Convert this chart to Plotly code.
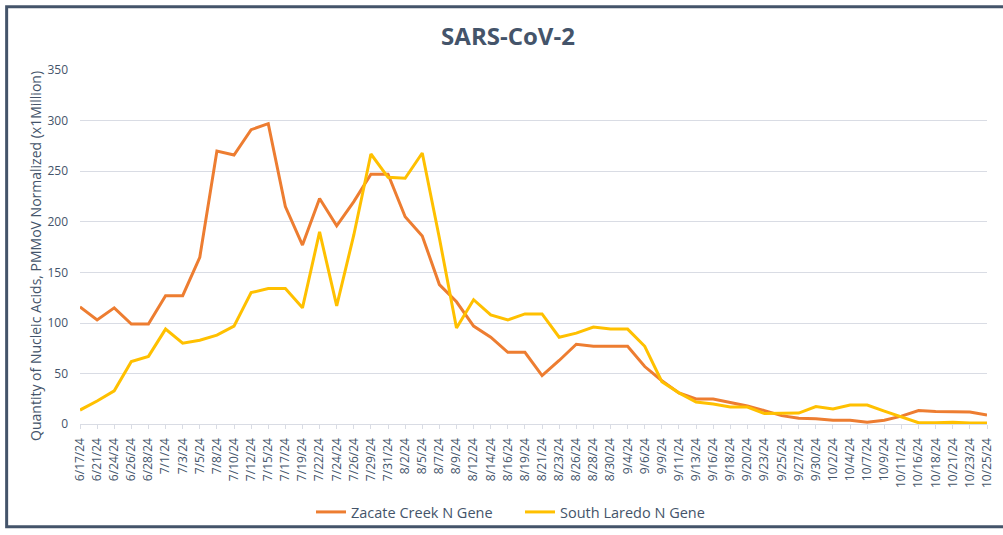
import plotly.graph_objects as go

dates = ["6/17/24", "6/21/24", "6/24/24", "6/26/24", "6/28/24", "7/1/24", "7/3/24", "7/5/24",
         "7/8/24", "7/10/24", "7/12/24", "7/15/24", "7/17/24", "7/19/24", "7/22/24", "7/24/24",
         "7/26/24", "7/29/24", "7/31/24", "8/2/24", "8/5/24", "8/7/24", "8/9/24", "8/12/24",
         "8/14/24", "8/16/24", "8/19/24", "8/21/24", "8/23/24", "8/26/24", "8/28/24", "8/30/24",
         "9/4/24", "9/6/24", "9/9/24", "9/11/24", "9/13/24", "9/16/24", "9/18/24", "9/20/24",
         "9/23/24", "9/25/24", "9/27/24", "9/30/24", "10/2/24", "10/4/24", "10/7/24", "10/9/24",
         "10/11/24", "10/16/24", "10/18/24", "10/21/24", "10/23/24", "10/25/24"]

zacate_creek = [116, 103, 115, 99, 99, 127, 127, 165, 270, 266, 291, 297, 215, 177, 223, 196,
                220, 247, 247, 205, 186, 138, 121, 97, 86, 71, 71, 48, 63, 79, 77, 77,
                77, 57, 43, 31, 25, 25, 21.5, 18, 13.5, 8.5, 6, 5.5, 4, 4, 2, 4,
                8, 13.5, 12.5, 12.5, 12, 9]

south_laredo = [14, 23, 33, 62, 67, 94, 80, 83, 88, 97, 130, 134, 134, 115, 190, 117,
                187, 267, 244, 243, 268, 184, 95, 123, 108, 103, 109, 109, 86, 90, 96, 94,
                94, 77, 42, 31, 22, 20, 17, 17, 10.5, 10.5, 11, 17.5, 15, 19, 19, 13,
                7, 1.5, 1.5, 2, 1.2, 1.2]

y_ticks = [0, 50, 100, 150, 200, 250, 300, 350]

TEXT = "#44546A"
GRID = "#D9DCE4"
FONT = "Open Sans"
W, H = 1003, 535
L, R, T, B = 80, 8, 70, 106
PW, PH = W - L - R, H - T - B

fig = go.Figure()
fig.add_trace(go.Scatter(x=dates, y=zacate_creek, mode="lines", name="Zacate Creek N Gene",
                         line=dict(color="#ED7D31", width=3)))
fig.add_trace(go.Scatter(x=dates, y=south_laredo, mode="lines", name="South Laredo N Gene",
                         line=dict(color="#FFC000", width=3)))

fig.update_layout(
    width=W, height=H,
    paper_bgcolor="white", plot_bgcolor="white",
    margin=dict(l=L, r=R, t=T, b=B),
    font=dict(family=FONT, color=TEXT),
    title=dict(text="<b>SARS-CoV-2</b>", x=508 / W, xref="container", xanchor="center",
               y=1 - 37 / H, yref="container", yanchor="middle",
               font=dict(size=24, color=TEXT, family=FONT)),
    showlegend=True,
    legend=dict(orientation="h", xref="container", x=520 / W, xanchor="center",
                yref="container", y=1 - 512 / H, yanchor="middle",
                bgcolor="rgba(0,0,0,0)",
                font=dict(size=14.5, color=TEXT, family=FONT), itemwidth=30,
                entrywidth=164, tracegroupgap=0),
    xaxis=dict(type="category", range=[0, len(dates) - 1], tickangle=-90,
               showgrid=False, showline=True, linecolor=GRID, linewidth=1,
               ticks="outside", ticklen=4, tickcolor=GRID, ticklabelstandoff=4,
               tickfont=dict(size=12, color=TEXT), fixedrange=True),
    yaxis=dict(range=[0, 350], tickvals=y_ticks, showgrid=True, gridcolor=GRID, gridwidth=1,
               zeroline=False, showline=False, ticks="",
               tickfont=dict(size=12, color=TEXT), ticklabelstandoff=11),
)

# y-axis title
fig.add_annotation(text="Quantity of Nucleic Acids, PMMoV Normalized (x1Million)",
                   textangle=-90, xref="paper", yref="paper",
                   x=(35 - L) / PW, y=(H - B - 258) / PH, xanchor="center", yanchor="middle",
                   showarrow=False, font=dict(size=14, color=TEXT, family=FONT))

# outer chart border
fig.add_shape(type="rect", xref="paper", yref="paper",
              x0=(6 - L) / PW, x1=(W + 30 - L) / PW,
              y0=(H - B - 533) / PH, y1=(H - B - 6) / PH,
              line=dict(color="#44546A", width=3), layer="above")

fig.write_html("out.html", config={"displayModeBar": False},
               post_script="document.body.style.margin='0';")
